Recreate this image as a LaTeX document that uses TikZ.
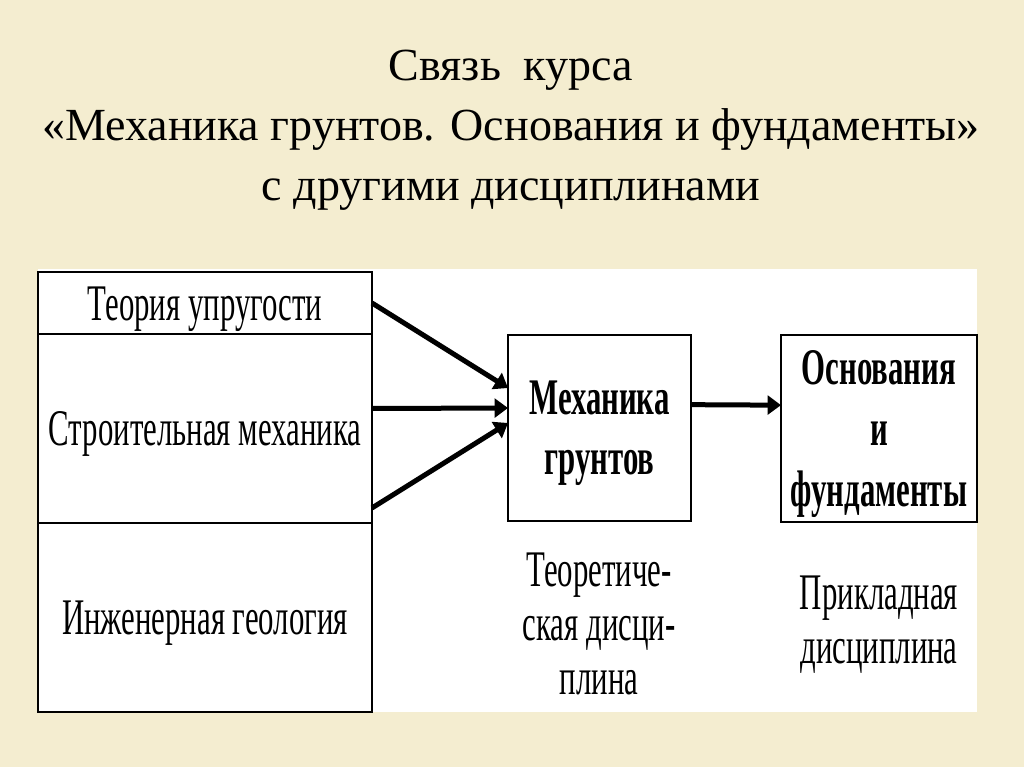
\documentclass[tikz,border=0pt]{standalone}
\usepackage{fontspec}
\setmainfont{Liberation Serif}
\newfontfamily\condfont[FakeStretch=0.6]{Liberation Serif}
\usetikzlibrary{arrows.meta}
\definecolor{bgbeige}{RGB}{244,237,208}
\begin{document}
\begin{tikzpicture}[x=0.75pt,y=-0.75pt,
  box/.style={draw=black,line width=2pt,fill=white,inner sep=0pt,outer sep=0pt},
  lefttext/.style={font=\condfont\fontsize{38.5pt}{40pt}\selectfont,text height=25.5pt,text depth=0pt},
  boldtext/.style={font=\condfont\bfseries\fontsize{38.5pt}{#1}\selectfont,align=center},
  lbltext/.style={font=\condfont\fontsize{38.5pt}{40.5pt}\selectfont,align=center,inner sep=0pt,anchor=north},
  arr/.style={line width=3.75pt,-{Triangle[length=10pt,width=14pt]}}]
\useasboundingbox (0,0) rectangle (1024,767);
\fill[bgbeige] (0,0) rectangle (1024,767);
\fill[white] (38,269) rectangle (977,712);
% title
\node[font=\fontsize{34.5pt}{45pt}\selectfont,align=center,anchor=north,inner sep=0pt] (title) at (511,50)
  {Связь\ \ курса\\«Механика грунтов. Основания и фундаменты»\\с другими дисциплинами};
% left column
\node[box,lefttext,minimum width=250.5pt,minimum height=46.5pt] (theory) at (205,303) {Теория упругости};
\node[box,lefttext,minimum width=250.5pt,minimum height=141.75pt] (struct) at (205,428.5) {Строительная механика};
\node[box,lefttext,minimum width=250.5pt,minimum height=141.75pt] (geol) at (205,617.5) {Инженерная геология};
% middle and right boxes
\node[box,boldtext=45pt,minimum width=137.25pt,minimum height=139.5pt] (soil) at (599.5,428)
  {Механика\\\raisebox{0pt}[\height][0pt]{грунтов}};
\node[box,boldtext=45.75pt,minimum width=147pt,minimum height=140.25pt] (found) at (879,428.5)
  {Основания\\и\\\raisebox{0pt}[\height][0pt]{фундаменты}};
% labels below
\node[lbltext] (theolbl) at (599,553) {Теоретиче-\\ская дисци-\\плина};
\node[lbltext] (applbl) at (879,576) {Прикладная\\дисциплина};
% arrows
\draw[arr] (theory.east) -- ([yshift=30pt]soil.west);
\draw[arr] ([yshift=15pt]struct.east) -- ([yshift=15pt]soil.west);
\draw[arr] ([yshift=-59.6pt]struct.east) -- ([yshift=3.75pt]soil.west);
\draw[arr] ([yshift=17.5pt]soil.east) -- ([yshift=17.5pt]found.west);
\end{tikzpicture}
\end{document}
